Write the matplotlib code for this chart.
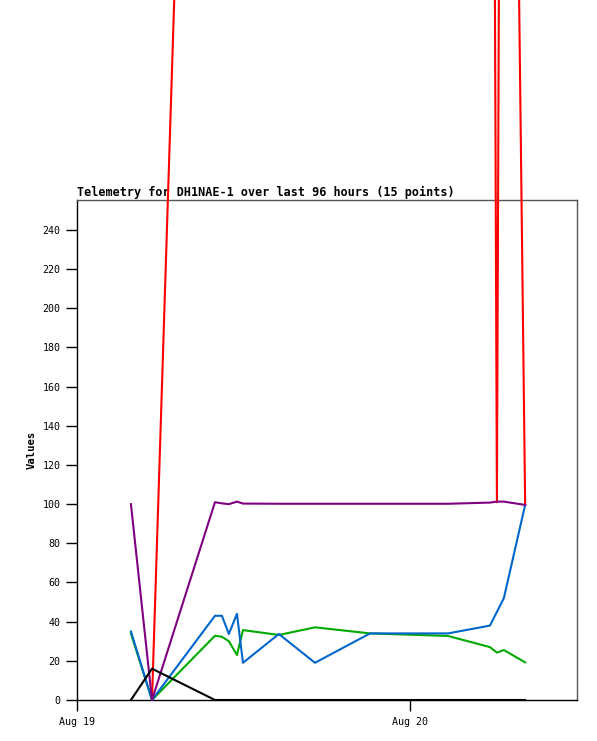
import numpy as np
import pandas as pd
from matplotlib import pyplot as plt
import matplotlib.dates as mdates

# sample times (15 points)
times = pd.to_datetime([
    "2024-08-19 03:53", "2024-08-19 05:24", "2024-08-19 09:56",
    "2024-08-19 10:26", "2024-08-19 10:56", "2024-08-19 11:31",
    "2024-08-19 11:57", "2024-08-19 14:32", "2024-08-19 17:08",
    "2024-08-19 21:06", "2024-08-20 02:43", "2024-08-20 05:44",
    "2024-08-20 06:14", "2024-08-20 06:44", "2024-08-20 08:16",
])

red = [np.nan, 0, 1013, 1013, 1013, 1012, 1012, 1012, 1011, 1011, 1012, 1013, 101, 1013, 100]
green = [34, 0, 32.8, 32.3, 30, 23, 35.7, 33.2, 37.1, 34, 32.7, 27, 24.2, 25.5, 19.2]
blue = [35, 0, 43, 43, 33.7, 44, 19, 33.7, 19, 34, 34, 38, 45, 52, 99.6]
purple = [100, 0, 101, 100.4, 100, 101.3, 100.3, 100.2, 100.2, 100.2, 100.2, 100.8, 101.3, 101.3, 99.6]
black = [0, 16, 0, 0, 0, 0, 0, 0, 0, 0, 0, 0, 0, 0, 0]

series = [
    (red, '#ff0000', 3.5),
    (green, '#00aa00', 3.6),
    (blue, '#0066cc', 3.7),
    (purple, '#800080', 3.8),
    (black, '#000000', 3.9),
]

fig = plt.figure(figsize=(5.97, 7.41), dpi=100)
ax = fig.add_axes([77/597, 41/741, 500/597, 500/741])

for vals, col, z in series:
    ax.plot(times, vals, color=col, lw=1.5, clip_on=False, zorder=z)

ax.set_xlim(pd.Timestamp("2024-08-19 00:00"), pd.Timestamp("2024-08-20 12:00"))
ax.set_ylim(0, 255.3)
ax.set_yticks(np.arange(0, 241, 20))
ax.xaxis.set_major_locator(mdates.DayLocator())
ax.xaxis.set_major_formatter(mdates.DateFormatter('%b %d'))

mono = 'DejaVu Sans Mono'
ax.tick_params(direction='out', length=8, width=1, labelsize=7.2, pad=4)
for lab in ax.get_xticklabels() + ax.get_yticklabels():
    lab.set_family(mono)
ax.tick_params(axis='x', pad=4)

ax.set_title("Telemetry for DH1NAE-1 over last 96 hours (15 points)",
             loc='left', fontsize=8.45, family=mono, fontweight='bold', pad=3)
ax.set_ylabel("Values", fontsize=7.6, family=mono, fontweight='bold', labelpad=4)

for s in ['top', 'right']:
    ax.spines[s].set_color('#555555')
for s in ax.spines.values():
    s.set_linewidth(1)

fig.savefig('out.png', dpi=100)
